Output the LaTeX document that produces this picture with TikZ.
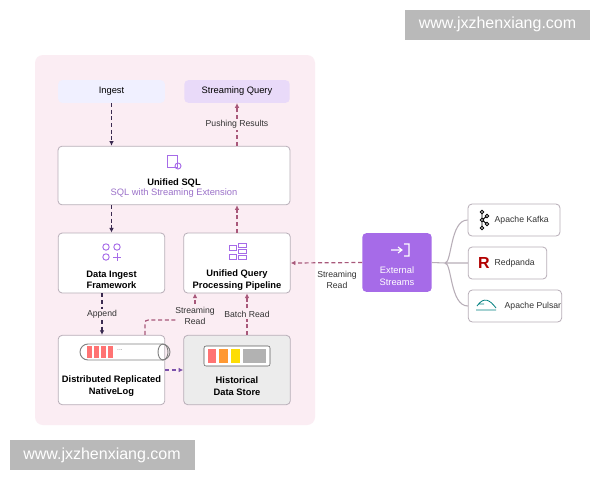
\documentclass[tikz,border=0pt]{standalone}
\usepackage{fontspec}
\setmainfont{Liberation Sans}
\usetikzlibrary{arrows.meta}
\definecolor{pnl}{HTML}{FBEDF3}
\definecolor{bd}{HTML}{B8AEB8}
\definecolor{dk}{HTML}{3A2A50}
\definecolor{pk}{HTML}{A8587A}
\definecolor{pur}{HTML}{A66BE8}
\begin{document}
\begin{tikzpicture}[x=0.75pt,y=-0.75pt,
 box/.style={draw=bd,rounded corners=3pt,fill=white,line width=0.6pt},
 lbl/.style={font=\fontsize{6.5}{8}\selectfont,align=center,text=black!80},
 ttl/.style={font=\bfseries\fontsize{7}{8.5}\selectfont,align=center},
 da/.style={densely dashed,line width=0.9pt,-{Latex[length=3.5pt,width=3.5pt]}},
 wm/.style={fill=gray!55,text=white,font=\fontsize{12}{14}\selectfont,inner sep=0pt,minimum width=138.75pt,minimum height=22.5pt}]
\useasboundingbox (0,0) rectangle (600,480);
\fill[white] (0,0) rectangle (600,480);
\fill[pnl,rounded corners=6pt] (35,55) rectangle (315,425);
\node[fill=blue!6,rounded corners=3pt,minimum width=80pt,minimum height=17pt,ttl,font=\fontsize{7}{8}\selectfont] (ing) at (111.5,91.5) {Ingest};
\node[fill=pur!25,rounded corners=3pt,minimum width=79pt,minimum height=17pt,ttl,font=\fontsize{7}{8}\selectfont] (sq) at (237,91.5) {Streaming Query};
\node[box,minimum width=174pt,minimum height=44pt] (sql) at (174,175.5) {};
\node[ttl] at (174,183) {Unified SQL};
\node[lbl,text=pur!70!gray,font=\fontsize{7}{8}\selectfont] at (174,193) {SQL with Streaming Extension};
\draw[pur,line width=0.7pt] (167,155) rectangle (177,167); \draw[pur,line width=0.7pt] (178,166) circle (3);
\node[box,minimum width=80pt,minimum height=45pt] (di) at (111.5,263) {};
\node[ttl] at (111.5,280) {Data Ingest\\Framework};
\foreach \p in {(106,247),(117,247),(106,257)} \draw[pur,line width=0.7pt] \p circle (3.2);
\draw[pur,line width=0.7pt] (113,257)--(121,257) (117,253)--(117,261);
\node[box,minimum width=80pt,minimum height=45pt] (up) at (237,263) {};
\node[ttl] at (237,280) {Unified Query\\Processing Pipeline};
\draw[pur,line width=0.7pt] (229,245) rectangle (236,250) (238,243) rectangle (246,247) (238,249) rectangle (246,253) (238,255) rectangle (246,259) (229,254) rectangle (236,259);
\node[box,minimum width=80pt,minimum height=52pt] (log) at (111.5,370) {};
\node[ttl] at (111.5,386) {Distributed Replicated\\NativeLog};
\draw[gray,line width=0.7pt,rounded corners=6pt] (80,344) rectangle (170,360);
\draw[gray,line width=0.7pt] (163,352) ellipse (5 and 8);
\foreach \x in {87,94,101,108} \fill[pink!60!red] (\x,346) rectangle +(5,12);
\node[font=\tiny,gray] at (120,350) {...};
\node[box,fill=gray!15,minimum width=80pt,minimum height=52pt] (hd) at (237,370) {};
\node[ttl] at (237,386) {Historical\\Data Store};
\draw[gray!70!black,fill=white,rounded corners=1.5pt] (204,346) rectangle (270,366);
\fill[pink!60!red] (208,349) rectangle (216,363); \fill[orange!80] (219,349) rectangle (228,363);
\fill[yellow!80!orange] (231,349) rectangle (240,363); \fill[gray!60] (243,349) rectangle (266,363);
\node[fill=pur,rounded corners=3pt,minimum width=52pt,minimum height=44pt] (ex) at (397,262.5) {};
\node[lbl,text=white,font=\fontsize{7}{8.5}\selectfont] at (397,276) {External\\Streams};
\draw[white,line width=0.8pt] (391,250)--(402,250) (398,247)--(402,250)--(398,253) (404,244)--(409,244)--(409,256)--(404,256);
\node[box,minimum width=69pt,minimum height=24pt] (ka) at (514,220) {};
\node[lbl,font=\fontsize{6.5}{8}\selectfont,anchor=west] at (490,220) {Apache Kafka};
\draw[black,line width=0.7pt] (482,212)--(482,228) (482,220)--(487,216) (482,220)--(487,224);
\foreach \p in {(482,212),(482,220),(482,228),(487,216),(487,224)} \draw[black,fill=white,line width=0.7pt] \p circle (1.8);
\node[box,minimum width=59pt,minimum height=24pt] (rp) at (507.5,263) {};
\node[lbl,font=\fontsize{6.5}{8}\selectfont,anchor=west] at (490,263) {Redpanda};
\node[text=red!70!black,font=\bfseries\fontsize{12}{12}\selectfont] at (484,263) {R};
\node[box,minimum width=70pt,minimum height=24pt] (pu) at (515,306) {};
\node[lbl,font=\fontsize{6.5}{8}\selectfont,anchor=west] at (500,306) {Apache Pulsar};
\draw[teal,line width=0.6pt] (477,306) .. controls (484,296) and (490,300) .. (496,308) (476,310)--(496,310) (478,304)--(484,304);
\draw[bd,line width=0.8pt] (ex.east) -- (445,263) (445,263) .. controls (452,263) and (450,220) .. (ka.west) (445,263) -- (rp.west) (445,263) .. controls (452,263) and (450,306) .. (pu.west);
\draw[da,dk] (ing) -- (sql.north -| ing);
\draw[da,dk] (sql.south -| ing) -- (di);
\draw[da,dk] (di.south -| 102,0) -- (log.north -| 102,0) node[midway,lbl,fill=pnl,inner sep=1pt]{Append};
\draw[da,pk] (up) -- (sql.south -| up);
\draw[da,pk] (sql.north -| up) -- (sq) node[midway,lbl,fill=pnl,inner sep=1pt]{Pushing Results};
\draw[da,pk] (hd.north -| 247,0) -- (up.south -| 247,0) node[midway,lbl,fill=pnl,inner sep=1pt]{Batch Read};
\draw[densely dashed,line width=0.9pt,pk] (log.north -| 145,0) -- (145,326) .. controls (145,320) .. (152,320) -- (178,320);
\node[lbl] at (195,316) {Streaming\\Read};
\draw[da,pk] (195,304) -- (up.south -| 195,0);
\draw[da,pur!60!dk] (log.east) -- (hd.west);
\draw[da,pk] (ex.west) -- (up.east);
\node[lbl] at (337,280) {Streaming\\Read};
\node[wm] (w1) at (497.5,24.5) {www.jxzhenxiang.com};
\node[wm] (w2) at (102,455) {www.jxzhenxiang.com};
\end{tikzpicture}
\end{document}
